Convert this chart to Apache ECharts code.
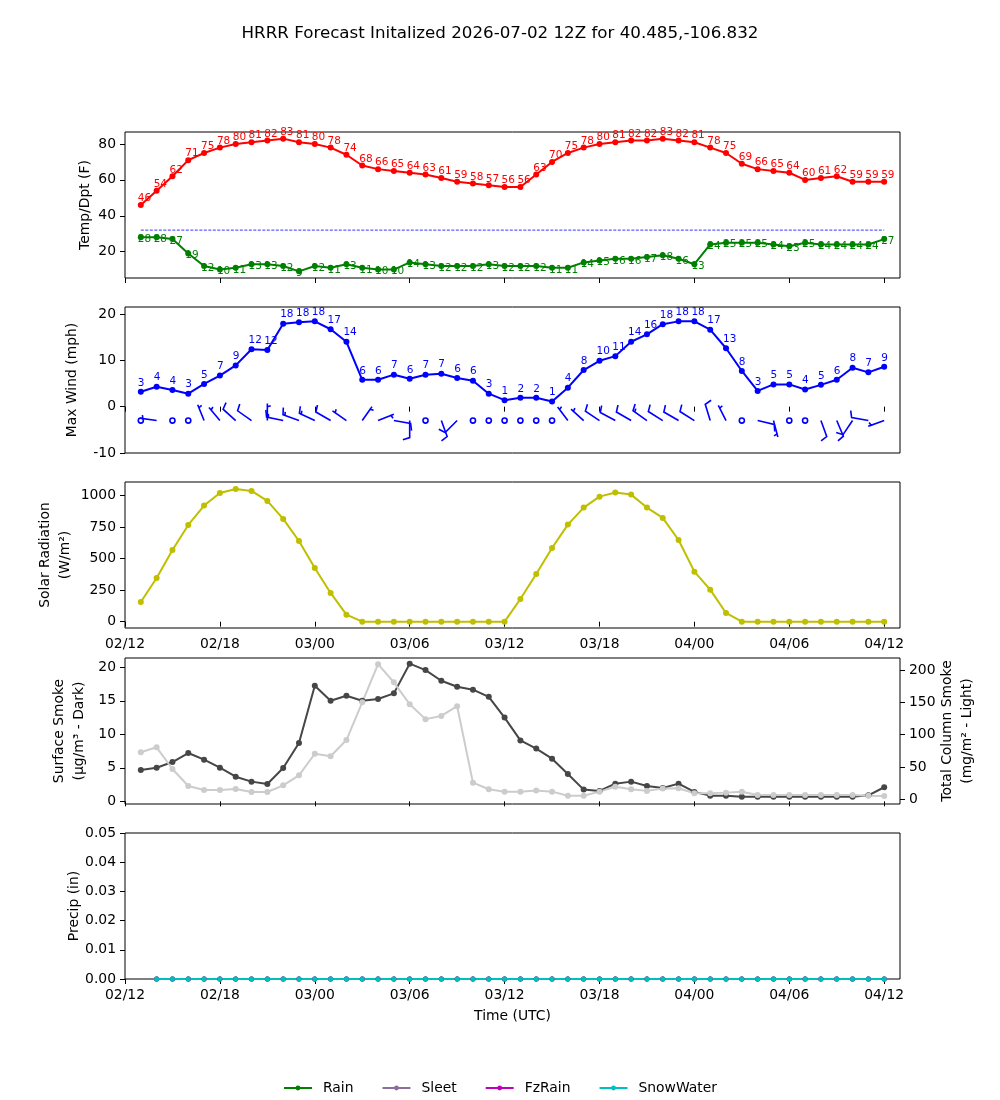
<!DOCTYPE html>
<html><head><meta charset="utf-8">
<script src="https://cdn.jsdelivr.net/npm/echarts@6/dist/echarts.min.js"></script>
<style>html,body{margin:0;padding:0;background:#fff}#c{width:1000px;height:1100px}</style>
</head><body><div id="c"></div>
<script>
// hours after 2026-07-02 12Z
const hours = [1,2,3,4,5,6,7,8,9,10,11,12,13,14,15,16,17,18,19,20,21,22,23,24,25,26,27,28,29,30,31,32,33,34,35,36,37,38,39,40,41,42,43,44,45,46,47,48];
const timeTicks = [0,6,12,18,24,30,36,42,48];
const temperature = [46,54,62,71,75,78,80,81,82,83,81,80,78,74,68,66,65,64,63,61,59,58,57,56,56,63,70,75,78,80,81,82,82,83,82,81,78,75,69,66,65,64,60,61,62,59,59,59];
const dewpoint = [28,28,27,19,12,10,11,13,13,12,9,12,11,13,11,10,10,14,13,12,12,12,13,12,12,12,11,11,14,15,16,16,17,18,16,13,24,25,25,25,24,23,25,24,24,24,24,27];
const freezing = 32;
const maxWind = [3.2,4.3,3.6,2.8,4.9,6.7,8.9,12.4,12.2,17.9,18.2,18.4,16.7,14.0,5.8,5.8,6.9,6.0,6.9,7.1,6.2,5.6,2.8,1.4,1.9,1.9,1.1,4.1,7.9,9.9,10.9,14.0,15.6,17.8,18.4,18.4,16.6,12.6,7.7,3.4,4.8,4.8,3.7,4.7,5.8,8.4,7.4,8.6];
const barbDir = [0,278,0,0,338,320,312,305,360,282,290,295,300,305,35,68,100,180,0,160,225,0,0,0,0,0,0,323,312,304,298,300,305,302,300,302,343,333,0,103,165,0,0,160,157,214,280,250];
const barbKt = [0,5,0,0,5,5,10,10,5,15,15,15,10,5,5,5,10,10,0,10,10,0,0,0,0,0,0,5,5,10,10,10,15,10,10,10,10,5,0,10,5,0,0,10,10,10,10,5];
const barbRow = -3;
const solar = [156,347,569,767,921,1021,1053,1037,958,815,640,426,228,56,0,0,0,0,0,0,0,0,0,0,180,378,585,770,905,992,1024,1008,905,823,648,397,254,69,0,0,0,0,0,0,0,0,0,0];
const smokeSurface = [4.68,5.02,5.87,7.21,6.22,5.02,3.68,2.94,2.59,4.98,8.71,17.26,15.02,15.77,15.02,15.27,16.12,20.55,19.6,18.0,17.1,16.67,15.6,12.5,9.1,7.87,6.37,4.08,1.75,1.55,2.64,2.94,2.29,2.0,2.64,1.4,0.85,0.85,0.7,0.7,0.7,0.7,0.7,0.7,0.7,0.7,0.9,2.1];
const smokeColumn = [72.7,80.4,46.9,20.6,14.4,14.4,15.9,11.3,11.3,21.6,37.1,70.5,66.5,91.7,150,209,181,147,124,129,144,25.7,15.5,11.8,11.8,13.4,11.8,5.6,5.6,11.8,19.5,15.5,13,16.6,17,9.3,9.3,10.3,11.8,6.6,6.6,6.6,6.6,6.6,6.6,6.6,5.6,5.1];
const precipHours = [2,3,4,5,6,7,8,9,10,11,12,13,14,15,16,17,18,19,20,21,22,23,24,25,26,27,28,29,30,31,32,33,34,35,36,37,38,39,40,41,42,43,44,45,46,47,48];
const rain = [0,0,0,0,0,0,0,0,0,0,0,0,0,0,0,0,0,0,0,0,0,0,0,0,0,0,0,0,0,0,0,0,0,0,0,0,0,0,0,0,0,0,0,0,0,0,0];
const sleet = [0,0,0,0,0,0,0,0,0,0,0,0,0,0,0,0,0,0,0,0,0,0,0,0,0,0,0,0,0,0,0,0,0,0,0,0,0,0,0,0,0,0,0,0,0,0,0];
const fzrain = [0,0,0,0,0,0,0,0,0,0,0,0,0,0,0,0,0,0,0,0,0,0,0,0,0,0,0,0,0,0,0,0,0,0,0,0,0,0,0,0,0,0,0,0,0,0,0];
const snowwater = [0,0,0,0,0,0,0,0,0,0,0,0,0,0,0,0,0,0,0,0,0,0,0,0,0,0,0,0,0,0,0,0,0,0,0,0,0,0,0,0,0,0,0,0,0,0,0];

const FONT = 'DejaVu Sans';
const pair = (xs, ys) => xs.map((x, i) => [x, ys[i]]);
function timeLabel(h) {
  const t = 12 + h;
  const d = 2 + Math.floor(t / 24), hr = t % 24;
  return String(d).padStart(2, '0') + '/' + String(hr).padStart(2, '0');
}
const grids = [132, 307, 482, 658, 833].map(t => ({left: 125, top: t, width: 775, height: 146,
  show: true, borderColor: '#000', borderWidth: 1, backgroundColor: 'transparent'}));
const xAxes = [0,1,2,3,4].map(i => ({
  type: 'value', gridIndex: i, min: 0, max: 49,
  axisLine: {show: false}, splitLine: {show: false},
  axisTick: {show: true, customValues: timeTicks, length: 5, lineStyle: {color: '#000', width: 1}},
  axisLabel: {show: i === 2 || i === 4, customValues: timeTicks, formatter: v => timeLabel(v),
    color: '#000', fontFamily: FONT, fontSize: 13.9, margin: 9},
  name: i === 4 ? 'Time (UTC)' : '', nameLocation: 'middle', nameGap: 30, nameMoveOverlap: false,
  nameTextStyle: {color: '#000', fontFamily: FONT, fontSize: 13.9}
}));
function yAx(grid, min, max, ticks, name, gap, opts) {
  return Object.assign({
    type: 'value', gridIndex: grid, min, max,
    axisLine: {show: false}, splitLine: {show: false},
    axisTick: {show: true, customValues: ticks, length: 5, lineStyle: {color: '#000', width: 1}},
    axisLabel: {customValues: ticks, color: '#000', fontFamily: FONT, fontSize: 13.9, margin: 9,
      formatter: v => String(v)},
    name, nameLocation: 'middle', nameGap: gap, nameRotate: 90, nameMoveOverlap: false,
    nameTextStyle: {color: '#000', fontFamily: FONT, fontSize: 13.9, lineHeight: 20, align: 'center'}
  }, opts || {});
}
const yAxes = [
  yAx(0, 5.3, 86.7, [20,40,60,80], 'Temp/Dpt (F)', 29.5),
  yAx(1, -10, 21.5, [-10,0,10,20], 'Max Wind (mph)', 43),
  yAx(2, -50, 1108, [0,250,500,750,1000], 'Solar Radiation\n(W/m²)', 49.2),
  yAx(3, -0.4, 21.4, [0,5,10,15,20], 'Surface Smoke\n(μg/m³ - Dark)', 35.5),
  yAx(3, -7.3, 218.6, [0,50,100,150,200], 'Total Column Smoke\n(mg/m² - Light)', 37.5, {position: 'right'}),
  yAx(4, 0, 0.05, [0,0.01,0.02,0.03,0.04,0.05], 'Precip (in)', 41)
];
yAxes[5].axisLabel.formatter = v => v.toFixed(2);

function lbl(color, dy) {
  return {show: true, position: 'inside', align: 'left', verticalAlign: 'middle', offset: [-3, dy],
    color, fontFamily: FONT, fontSize: 10.5, formatter: p => Math.round(p.value[1])};
}
function lineS(name, xi, yi, data, color, extra) {
  return Object.assign({name, type: 'line', xAxisIndex: xi, yAxisIndex: yi, data,
    symbol: 'circle', symbolSize: 6, itemStyle: {color}, lineStyle: {color, width: 2},
    emphasis: {disabled: true}}, extra || {});
}

function renderBarb(params, api) {
  const h = api.value(0), dir = api.value(1), kt = api.value(2);
  const c = api.coord([h, barbRow]);
  const L = 17, sp = L * 0.125, H = L * 0.4, W = L * 0.25, R = L * 0.15;
  const style = {stroke: '#0000ff', fill: null, lineWidth: 1.6};
  if (kt < 2.5) {
    return {type: 'circle', shape: {cx: c[0], cy: c[1], r: R}, style};
  }
  const th = dir * Math.PI / 180;
  const d = [Math.sin(th), -Math.cos(th)], p = [Math.cos(th), Math.sin(th)];
  const tr = (a, b) => [c[0] + a * p[0] + b * d[0], c[1] + a * p[1] + b * d[1]];
  const r5 = Math.round(kt / 5) * 5;
  const nflag = Math.floor(r5 / 50), nbarb = Math.floor((r5 % 50) / 10), half = (r5 % 10) >= 5;
  const v = [[0, 0]];
  let off = L;
  for (let i = 0; i < nflag; i++) {
    if (off !== L) off += sp / 2;
    v.push([0, off], [H, off - W / 2], [0, off - W]);
    off -= W + sp;
  }
  for (let i = 0; i < nbarb; i++) {
    v.push([0, off], [H, off + W / 2], [0, off]);
    off -= sp;
  }
  if (half) {
    if (off === L) { v.push([0, off]); off -= 1.5 * sp; }
    v.push([0, off], [H / 2, off + W / 4], [0, off]);
  }
  v.push([0, 0]);
  return {type: 'polyline', shape: {points: v.map(q => tr(q[0], q[1]))}, style};
}

const precipColors = {Rain: '#008000', Sleet: '#8c6e9c', FzRain: '#bf00bf', SnowWater: '#00bfbf'};

const option = {
  animation: false,
  backgroundColor: '#fff',
  textStyle: {fontFamily: FONT},
  title: {text: 'HRRR Forecast Initalized 2026-07-02 12Z for 40.485,-106.832', left: 'center', top: 20,
    textStyle: {fontFamily: FONT, fontSize: 16.7, fontWeight: 'normal', color: '#000'}},
  legend: {data: ['Rain', 'Sleet', 'FzRain', 'SnowWater'], left: 'center', top: 1076,
    itemWidth: 28, itemHeight: 6, itemGap: 28,
    textStyle: {fontFamily: FONT, fontSize: 13.9, color: '#000', padding: [0, 0, 0, 6]}},
  grid: grids, xAxis: xAxes, yAxis: yAxes,
  series: [
    lineS('Temp', 0, 0, pair(hours, temperature), '#ff0000', {label: lbl('#ff0000', -6.5)}),
    lineS('Dewpoint', 0, 0, pair(hours, dewpoint), '#008000', {label: lbl('#008000', 2)}),
    {type: 'line', xAxisIndex: 0, yAxisIndex: 0, data: [[hours[0], freezing], [hours[hours.length - 1], freezing]],
      symbol: 'none', silent: true, lineStyle: {color: '#0000ff', width: 0.8, type: [3, 1.5]}},
    lineS('Wind', 1, 1, pair(hours, maxWind), '#0000ff', {label: lbl('#0000ff', -9)}),
    {type: 'custom', xAxisIndex: 1, yAxisIndex: 1, renderItem: renderBarb, silent: true,
      data: hours.map((hh, i) => [hh, barbDir[i], barbKt[i]])},
    lineS('Solar', 2, 2, pair(hours, solar), '#bfbf00'),
    lineS('SurfaceSmoke', 3, 3, pair(hours, smokeSurface), '#464646'),
    lineS('ColumnSmoke', 3, 4, pair(hours, smokeColumn), '#cccccc'),
    lineS('Rain', 4, 5, pair(precipHours, rain), precipColors.Rain, {symbolSize: 5}),
    lineS('Sleet', 4, 5, pair(precipHours, sleet), precipColors.Sleet, {symbolSize: 5}),
    lineS('FzRain', 4, 5, pair(precipHours, fzrain), precipColors.FzRain, {symbolSize: 5}),
    lineS('SnowWater', 4, 5, pair(precipHours, snowwater), precipColors.SnowWater, {symbolSize: 5})
  ]
};
const chart = echarts.init(document.getElementById('c'), null, {renderer: 'canvas'});
chart.setOption(option);
</script></body></html>
